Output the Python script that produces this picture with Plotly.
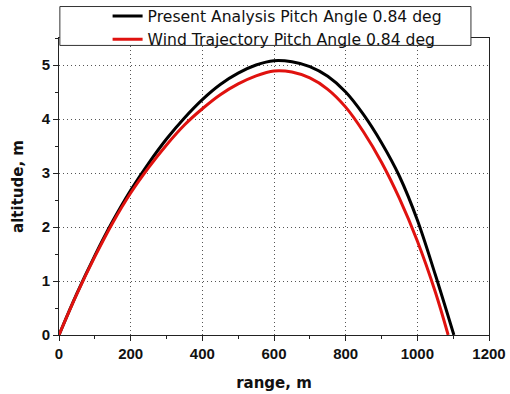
import plotly.graph_objects as go

# Present analysis trajectory (range m, altitude m)
present_x = [0, 50, 100, 150, 200, 250, 300, 350, 400, 450, 500, 550, 600,
             650, 700, 750, 800, 850, 900, 950, 1000, 1050, 1102]
present_y = [0, 0.77, 1.47, 2.11, 2.68, 3.18, 3.63, 4.02, 4.36, 4.64, 4.85, 5.00, 5.08,
             5.06, 4.97, 4.79, 4.50, 4.08, 3.56, 2.94, 2.13, 1.12, 0]

# Wind trajectory (range m, altitude m)
wind_x = [0, 50, 100, 150, 200, 250, 300, 350, 400, 450, 500, 550, 600,
          650, 700, 750, 800, 850, 900, 950, 1000, 1050, 1086]
wind_y = [0, 0.76, 1.45, 2.08, 2.63, 3.10, 3.52, 3.89, 4.19, 4.45, 4.65, 4.80, 4.89,
          4.87, 4.76, 4.55, 4.22, 3.76, 3.20, 2.53, 1.74, 0.80, 0]

names = ["Present Analysis Pitch Angle 0.84 deg", "Wind Trajectory Pitch Angle 0.84 deg"]
x_ticks = [0, 200, 400, 600, 800, 1000, 1200]
y_ticks = [0, 1, 2, 3, 4, 5]

fig = go.Figure()
fig.add_trace(go.Scatter(x=present_x, y=present_y, mode="lines", name=names[0],
                         line=dict(color="black", width=3, shape="spline", smoothing=1.0)))
fig.add_trace(go.Scatter(x=wind_x, y=wind_y, mode="lines", name=names[1],
                         line=dict(color="#e0120f", width=3, shape="spline", smoothing=1.0)))

axis_common = dict(
    showline=True, linecolor="#222", linewidth=1, mirror=True,
    ticks="outside", ticklen=5, tickcolor="#222",
    showgrid=True, gridcolor="#555", griddash="1px,3px", gridwidth=1,
    zeroline=False,
    tickfont=dict(family="Liberation Sans, Arial", size=15, color="#111", weight="bold"),
)

title_font = dict(family="DejaVu Sans", size=15, color="#111")

fig.update_xaxes(range=[0, 1200], tickvals=x_ticks,
                 minor=dict(dtick=100, ticks="outside", ticklen=3, tickcolor="#222", showgrid=False),
                 title=dict(text="<b>range, m</b>", font=title_font, standoff=16),
                 **axis_common)
fig.update_yaxes(range=[0, 5.5], tickvals=y_ticks,
                 minor=dict(dtick=0.5, ticks="outside", ticklen=3, tickcolor="#222", showgrid=False),
                 title=dict(text="<b>altitude, m</b>", font=title_font, standoff=14),
                 **axis_common)

fig.add_shape(type="rect", xref="paper", yref="paper", x0=0.002, x1=0.958, y0=0.975, y1=1.106,
              line=dict(color="#333", width=1), fillcolor="white", layer="above")

fig.update_layout(
    width=510, height=394,
    margin=dict(l=59, r=21, t=38, b=59, autoexpand=False),
    paper_bgcolor="white", plot_bgcolor="white",
    showlegend=True,
    legend=dict(x=0.113, y=1.13, xanchor="left", yanchor="top",
                bgcolor="rgba(0,0,0,0)", borderwidth=0,
                font=dict(family="DejaVu Sans", size=15.6, color="#111"),
                tracegroupgap=0),
)

fig.write_html("out.html")
